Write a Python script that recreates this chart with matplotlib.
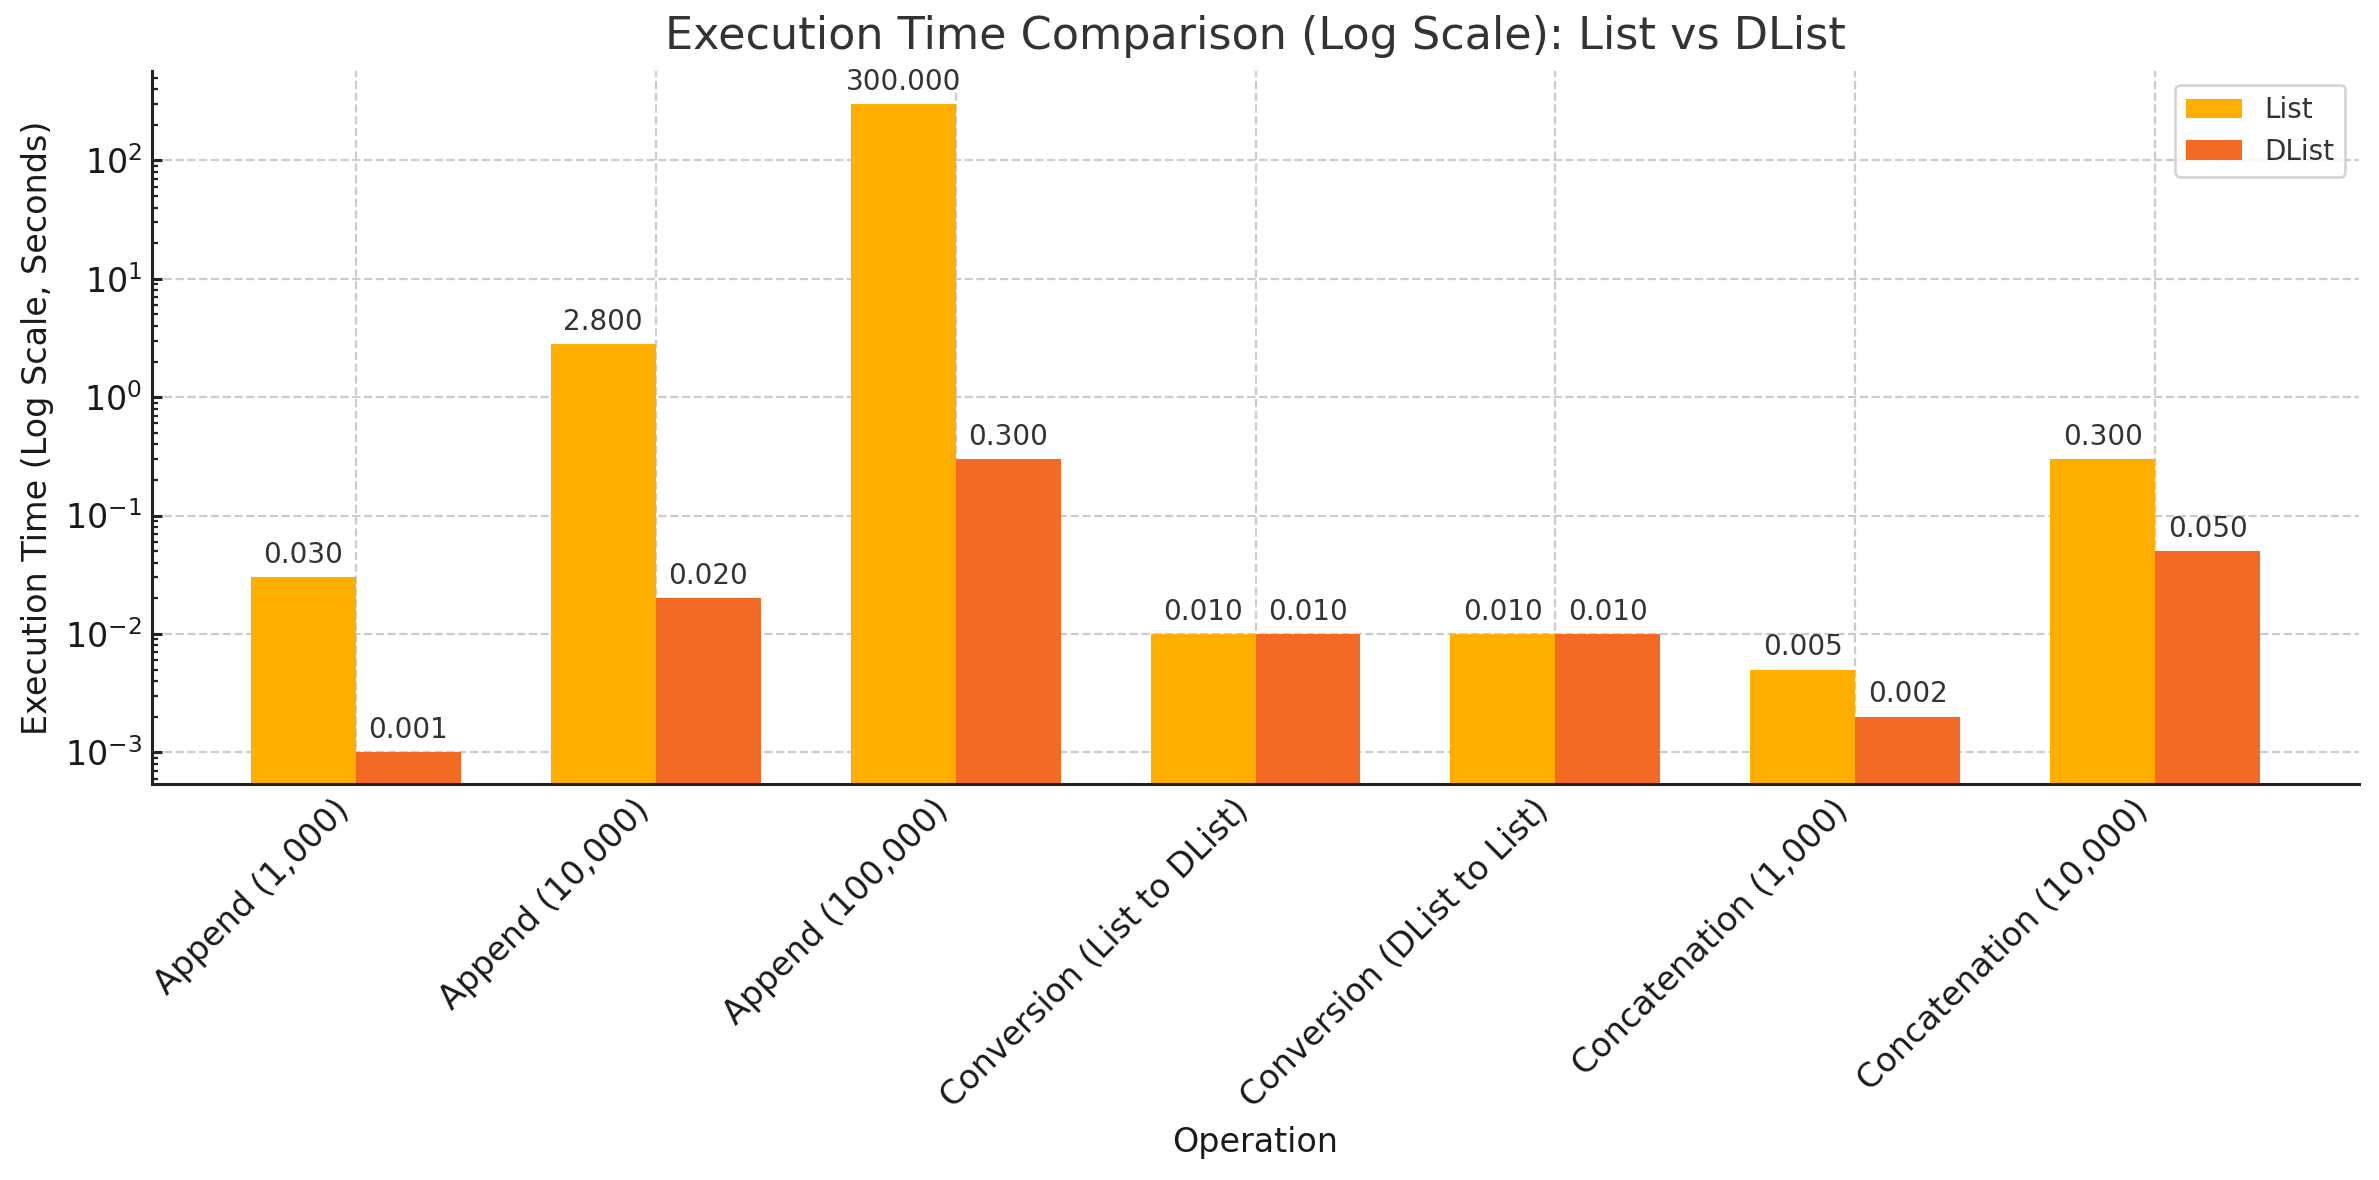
import matplotlib
matplotlib.use("Agg")
import matplotlib.pyplot as plt
import numpy as np

operations = ["Append (1,000)", "Append (10,000)", "Append (100,000)",
              "Conversion (List to DList)", "Conversion (DList to List)",
              "Concatenation (1,000)", "Concatenation (10,000)"]
list_times = [0.03, 2.8, 300.0, 0.01, 0.01, 0.005, 0.3]
dlist_times = [0.001, 0.02, 0.3, 0.01, 0.01, 0.002, 0.05]

list_color = "#FFAE00"
dlist_color = "#F46A25"
text_color = "#333333"

plt.rcParams["font.family"] = "DejaVu Sans"

fig = plt.figure(figsize=(2379 / 200, 1180 / 200), dpi=200)
ax = fig.add_axes([152 / 2379, 1 - 784 / 1180, (2359 - 152) / 2379, (784 - 71) / 1180])

x = np.arange(len(operations))
w = 0.35
b1 = ax.bar(x - w / 2, list_times, w, label="List", color=list_color, zorder=2)
b2 = ax.bar(x + w / 2, dlist_times, w, label="DList", color=dlist_color, zorder=2)

ax.set_yscale("log")
ax.set_ylim(5.4e-4, 570)
ax.set_xlim(-0.68, 6.68)

for bars in (b1, b2):
    for rect in bars:
        h = rect.get_height()
        ax.annotate(f"{h:.3f}", xy=(rect.get_x() + rect.get_width() / 2, h),
                    xytext=(0, 3), textcoords="offset points",
                    ha="center", va="bottom", fontsize=10, color=text_color)

ax.set_xticks(x)
ax.set_xticklabels(operations, rotation=45, ha="right", fontsize=12, color="#1a1a1a")
ax.tick_params(axis="y", labelsize=12, labelcolor="#1a1a1a")
ax.tick_params(axis="both", which="major", direction="in", length=3.5, width=1.1,
               color="#222222")
ax.tick_params(axis="both", which="minor", direction="in", length=2, width=0.8,
               color="#222222")

ax.set_xlabel("Operation", fontsize=12, color="#1a1a1a")
ax.set_ylabel("Execution Time (Log Scale, Seconds)", fontsize=12, color="#1a1a1a")
ax.set_title("Execution Time Comparison (Log Scale): List vs DList", fontsize=16,
             color=text_color, pad=8)

ax.grid(True, which="major", linestyle="--", color="#cccccc", linewidth=0.8, zorder=0)
ax.set_axisbelow(True)

for side in ("top", "right"):
    ax.spines[side].set_visible(False)
for side in ("left", "bottom"):
    ax.spines[side].set_color("#222222")
    ax.spines[side].set_linewidth(1.1)

leg = ax.legend(loc="upper right", fontsize=10, frameon=True, fancybox=True)
leg.get_frame().set_edgecolor("#cccccc")
for t in leg.get_texts():
    t.set_color(text_color)

fig.savefig("out.png", dpi=200)
